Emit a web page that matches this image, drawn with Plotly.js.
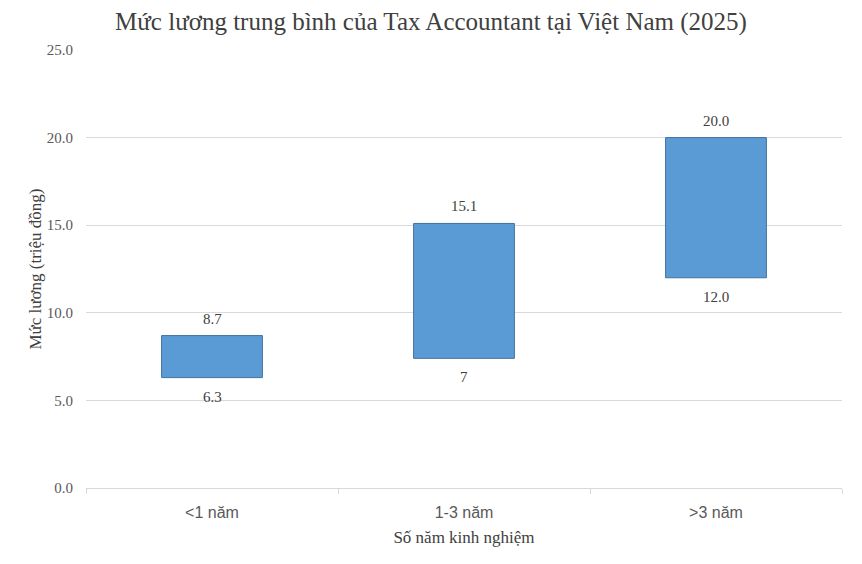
<!DOCTYPE html>
<html>
<head>
<meta charset="utf-8">
<script src="https://cdn.plot.ly/plotly-3.0.1.min.js"></script>
<style>html,body{margin:0;padding:0;background:#fff;}#chart{width:862px;height:564px;}</style>
</head>
<body>
<div id="chart"></div>
<script>
const categories = ["<1 năm", "1-3 năm", ">3 năm"];
const lowValues = [6.3, 7.4, 12.0];
const highValues = [8.7, 15.1, 20.0];
const lowLabels = ["6.3", "7", "12.0"];
const highLabels = ["8.7", "15.1", "20.0"];
const yTicks = [0, 5, 10, 15, 20, 25];

const serif = "Liberation Serif, Times New Roman, serif";

const bars = {
  type: "bar",
  x: categories,
  base: lowValues,
  y: highValues.map((h, i) => h - lowValues[i]),
  marker: {color: "#5B9BD5", line: {color: "#41719C", width: 1}},
  hoverinfo: "skip"
};

const annotations = [];
categories.forEach((c, i) => {
  annotations.push({x: c, y: highValues[i], text: highLabels[i], showarrow: false,
    yanchor: "middle", yshift: 17, font: {family: serif, size: 15, color: "#404040"}});
  annotations.push({x: c, y: lowValues[i], text: lowLabels[i], showarrow: false,
    yanchor: "middle", yshift: -19, font: {family: serif, size: 15, color: "#404040"}});
});

const layout = {
  width: 862, height: 564,
  margin: {l: 86, r: 20, t: 50, b: 76},
  paper_bgcolor: "#fff", plot_bgcolor: "#fff",
  showlegend: false,
  bargap: 0.6,
  title: {text: "Mức lương trung bình của Tax Accountant tại Việt Nam (2025)",
    x: 0.5, xanchor: "center", y: 0.963, yanchor: "middle",
    font: {family: serif, size: 25, color: "#404040"}},
  xaxis: {
    type: "category",
    showgrid: false,
    showline: true, linecolor: "#d9d9d9", linewidth: 1,
    ticks: "outside", tickson: "boundaries", ticklen: 5, tickcolor: "#d9d9d9",
    ticklabelstandoff: 10,
    tickfont: {family: "Liberation Sans Narrow, Liberation Sans, sans-serif", size: 16, color: "#595959"},
    title: {text: "Số năm kinh nghiệm", standoff: 10, font: {family: serif, size: 17, color: "#404040"}},
    fixedrange: true
  },
  yaxis: {
    range: [0, 25],
    tickvals: yTicks,
    ticktext: yTicks.map(v => v.toFixed(1)),
    showgrid: true, gridcolor: "#d9d9d9", gridwidth: 1,
    zeroline: false,
    ticks: "", ticklabelstandoff: 12,
    tickfont: {family: serif, size: 15, color: "#595959"},
    title: {text: "Mức lương (triệu đồng)", standoff: 0, font: {family: serif, size: 17, color: "#404040"}},
    fixedrange: true
  },
  annotations: annotations
};

Plotly.newPlot("chart", [bars], layout, {displayModeBar: false, staticPlot: true});
</script>
</body>
</html>
